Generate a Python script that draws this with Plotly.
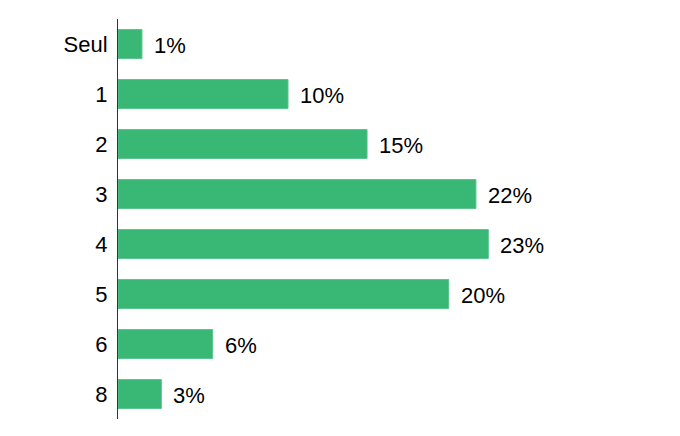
import plotly.graph_objects as go

categories = ["Seul", "1", "2", "3", "4", "5", "6", "8"]
values = [1.47, 10.43, 15.28, 21.96, 22.72, 20.29, 5.81, 2.66]
labels = ["1%", "10%", "15%", "22%", "23%", "20%", "6%", "3%"]

bar_color = "#38B775"
font_family = "Liberation Sans, Arial, sans-serif"

fig = go.Figure()
fig.add_trace(go.Bar(
    x=values, y=categories, orientation="h",
    marker=dict(color=bar_color, line=dict(color="#5CC48E", width=1)),
    width=0.58, hoverinfo="skip",
))

# category axis: annotations use the category index as position
for i, (v, t) in enumerate(zip(values, labels)):
    fig.add_annotation(x=v, y=i, text=t, showarrow=False, xanchor="left",
                       yanchor="middle", xshift=10, yshift=-1,
                       font=dict(size=22, color="#000000", family=font_family))

fig.update_layout(
    width=680, height=436,
    margin=dict(l=118, r=73, t=19, b=17),
    plot_bgcolor="white", paper_bgcolor="white",
    showlegend=False,
    font=dict(family=font_family, size=22, color="#000000"),
    xaxis=dict(range=[0, 30], visible=False, showgrid=False, zeroline=False),
    yaxis=dict(type="category", categoryorder="array", categoryarray=categories,
               autorange="reversed", showline=True,
               linecolor="#333333", linewidth=1, ticks="",
               ticklabelstandoff=5, showgrid=False,
               tickfont=dict(size=22, color="#000000")),
)

fig.write_html("out.html")
